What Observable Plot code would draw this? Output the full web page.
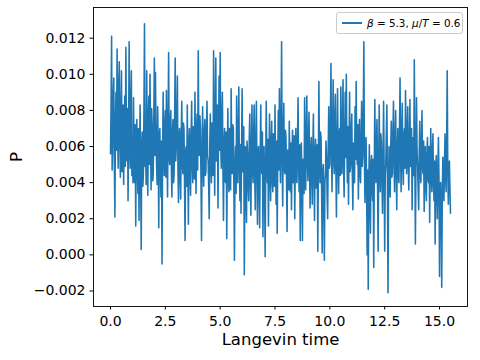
<!DOCTYPE html>
<html>
<head>
<meta charset="utf-8">
<script src="https://cdn.jsdelivr.net/npm/d3@7"></script>
<script src="https://cdn.jsdelivr.net/npm/@observablehq/plot@0.6"></script>
<style>
  html, body { margin: 0; padding: 0; background: white; }
  #chart { position: relative; width: 480px; height: 360px; }
  #legend {
    position: absolute; left: 336px; top: 12px; width: 127px; height: 22px;
    box-sizing: border-box; border: 1px solid #cccccc; border-radius: 3px;
    background: rgba(255,255,255,0.8); font-family: "DejaVu Sans"; font-size: 10.4px;
    display: flex; align-items: center; white-space: nowrap; color: black;
  }
  #legend .swatch { display: inline-block; width: 20px; height: 1.8px; background: #1f77b4; margin-left: 5px; margin-right: 5px; }
  #legend i { font-style: italic; }
</style>
</head>
<body>
<div id="chart"><div id="legend"></div></div>
<script>
// Langevin time grid step
const timeStep = 0.025;
// P (one value per time step)
const P = [
  0.0056, 0.0082, 0.0121, 0.0047, 0.0062, 0.0088, 0.0098, 0.0051, 0.0021, 0.0072,
  0.0090, 0.0058, 0.0114, 0.0070, 0.0048, 0.0093, 0.0107, 0.0062, 0.0043, 0.0079,
  0.0102, 0.0046, 0.0055, 0.0083, 0.0039, 0.0065, 0.0088, 0.0049, 0.0115, 0.0068,
  0.0052, 0.0081, 0.0030, 0.0066, 0.0118, 0.0060, 0.0048, 0.0085, 0.0102, 0.0044,
  0.0058, 0.0040, 0.0087, 0.0053, 0.0040, 0.0072, 0.0016, 0.0064, 0.0075, 0.0048,
  0.0034, 0.0070, 0.0019, 0.0058, 0.0083, 0.0045, 0.0003, 0.0061, 0.0068, 0.0038,
  0.0045, 0.0080, 0.0128, 0.0049, 0.0060, 0.0039, 0.0102, 0.0057, 0.0033, 0.0076,
  0.0088, 0.0050, 0.0100, 0.0067, 0.0036, 0.0081, 0.0072, 0.0041, 0.0045, 0.0077,
  0.0109, 0.0055, 0.0101, 0.0068, 0.0050, 0.0039, 0.0082, 0.0060, 0.0015, 0.0066,
  0.0070, 0.0047, 0.0032, 0.0063, -0.0005, 0.0055, 0.0090, 0.0060, 0.0044, 0.0071,
  0.0080, 0.0043, 0.0091, 0.0058, 0.0032, 0.0071, 0.0112, 0.0054, 0.0050, 0.0074,
  0.0080, 0.0046, 0.0032, 0.0069, 0.0075, 0.0040, 0.0045, 0.0078, 0.0109, 0.0052,
  0.0060, 0.0077, 0.0099, 0.0047, 0.0029, 0.0066, 0.0070, 0.0044, 0.0031, 0.0068,
  0.0085, 0.0050, 0.0045, 0.0073, 0.0070, 0.0039, 0.0008, 0.0057, 0.0060, 0.0038,
  0.0083, 0.0052, 0.0017, 0.0061, 0.0070, 0.0045, 0.0033, 0.0066, 0.0085, 0.0050,
  0.0040, 0.0071, 0.0062, 0.0042, 0.0090, 0.0056, 0.0034, 0.0069, 0.0078, 0.0047,
  0.0113, 0.0061, 0.0055, 0.0077, 0.0070, 0.0043, 0.0008, 0.0058, 0.0082, 0.0051,
  0.0038, 0.0068, 0.0075, 0.0044, 0.0046, 0.0072, 0.0085, 0.0055, 0.0052, 0.0039,
  0.0020, 0.0060, 0.0078, 0.0050, 0.0040, 0.0073, 0.0068, 0.0044, 0.0113, 0.0061,
  0.0033, 0.0075, 0.0109, 0.0052, 0.0060, 0.0083, 0.0026, 0.0064, 0.0099, 0.0058,
  0.0112, 0.0062, 0.0048, 0.0074, 0.0090, 0.0050, 0.0019, 0.0059, 0.0070, 0.0041,
  0.0040, 0.0068, 0.0009, 0.0052, 0.0081, 0.0047, 0.0035, 0.0070, 0.0065, 0.0036,
  0.0092, 0.0055, 0.0045, 0.0072, 0.0070, 0.0038, -0.0003, 0.0049, 0.0060, 0.0034,
  0.0088, 0.0052, 0.0040, 0.0067, 0.0093, 0.0048, 0.0030, 0.0061, 0.0023, 0.0057,
  0.0092, 0.0046, 0.0050, 0.0071, -0.0011, 0.0040, 0.0060, 0.0035, 0.0018, 0.0063,
  0.0055, 0.0038, 0.0030, 0.0064, 0.0078, 0.0041, 0.0022, 0.0059, 0.0083, 0.0047,
  0.0040, 0.0066, 0.0083, 0.0044, 0.0025, 0.0062, 0.0085, 0.0051, 0.0017, 0.0058,
  0.0060, 0.0036, 0.0015, 0.0055, 0.0083, 0.0049, 0.0045, 0.0068, 0.0010, 0.0052,
  0.0060, 0.0037, -0.0001, 0.0048, 0.0085, 0.0056, 0.0040, 0.0064, 0.0016, 0.0050,
  0.0078, 0.0045, 0.0030, 0.0062, 0.0074, 0.0041, 0.0035, 0.0067, 0.0060, 0.0038,
  0.0083, 0.0049, 0.0028, 0.0063, 0.0012, 0.0055, 0.0080, 0.0047, 0.0092, 0.0058,
  0.0040, 0.0071, 0.0118, 0.0056, 0.0027, 0.0064, 0.0084, 0.0048, 0.0045, 0.0069,
  0.0065, 0.0042, 0.0013, 0.0058, 0.0055, 0.0036, 0.0074, 0.0051, 0.0035, 0.0062,
  0.0025, 0.0057, 0.0069, 0.0040, 0.0045, 0.0066, 0.0020, 0.0052, 0.0070, 0.0043,
  0.0040, 0.0064, 0.0087, 0.0050, 0.0035, 0.0061, 0.0008, 0.0047, 0.0062, 0.0039,
  0.0008, 0.0053, 0.0050, 0.0034, 0.0087, 0.0058, 0.0036, 0.0065, 0.0088, 0.0052,
  0.0041, 0.0063, 0.0079, 0.0046, 0.0026, 0.0057, 0.0065, 0.0043, 0.0028, 0.0060,
  0.0078, 0.0047, 0.0019, 0.0055, 0.0064, 0.0037, 0.0040, 0.0061, 0.0002, 0.0049,
  0.0096, 0.0054, 0.0040, 0.0068, 0.0065, 0.0035, 0.0001, 0.0046, 0.0050, 0.0030,
  -0.0003, 0.0041, 0.0045, 0.0063, 0.0054, 0.0033, 0.0020, 0.0059, 0.0082, 0.0048,
  0.0050, 0.0072, 0.0106, 0.0057, 0.0035, 0.0068, 0.0097, 0.0053, 0.0045, 0.0076,
  0.0089, 0.0048, 0.0021, 0.0060, 0.0092, 0.0055, 0.0034, 0.0067, 0.0070, 0.0044,
  0.0093, 0.0056, 0.0045, 0.0074, 0.0097, 0.0050, 0.0032, 0.0063, 0.0090, 0.0054,
  0.0100, 0.0058, 0.0040, 0.0071, 0.0028, 0.0059, 0.0090, 0.0046, 0.0050, 0.0069,
  0.0078, 0.0044, 0.0025, 0.0062, 0.0060, 0.0040, 0.0082, 0.0053, 0.0096, 0.0057,
  0.0050, 0.0072, 0.0031, 0.0058, 0.0075, 0.0045, 0.0040, 0.0066, 0.0085, 0.0049,
  0.0055, 0.0077, 0.0118, 0.0054, 0.0029, 0.0060, 0.0065, 0.0038, 0.0000, 0.0047,
  -0.0019, 0.0040, 0.0061, 0.0033, 0.0012, 0.0050, 0.0055, 0.0036, 0.0030, 0.0053,
  -0.0007, 0.0045, 0.0086, 0.0052, 0.0040, 0.0063, 0.0075, 0.0039, 0.0002, 0.0048,
  0.0083, 0.0050, 0.0035, 0.0067, 0.0062, 0.0042, 0.0023, 0.0055, 0.0085, 0.0046,
  0.0002, 0.0044, 0.0050, 0.0068, 0.0083, 0.0041, -0.0021, 0.0037, 0.0060, 0.0045,
  0.0032, 0.0059, 0.0074, 0.0043, 0.0045, 0.0066, 0.0085, 0.0052, 0.0035, 0.0064,
  0.0080, 0.0047, 0.0025, 0.0058, 0.0070, 0.0044, 0.0040, 0.0069, 0.0098, 0.0056,
  0.0035, 0.0063, 0.0084, 0.0051, 0.0039, 0.0066, 0.0070, 0.0048, 0.0091, 0.0060,
  0.0045, 0.0068, 0.0082, 0.0050, 0.0036, 0.0061, 0.0086, 0.0049, 0.0055, 0.0070,
  0.0025, 0.0054, 0.0065, 0.0044, 0.0108, 0.0052, 0.0006, 0.0049, 0.0087, 0.0058,
  0.0050, 0.0036, 0.0025, 0.0057, 0.0074, 0.0045, 0.0040, 0.0062, 0.0080, 0.0048,
  0.0045, 0.0063, 0.0024, 0.0051, 0.0060, 0.0038, 0.0030, 0.0055, 0.0065, 0.0042,
  0.0040, 0.0060, 0.0018, 0.0047, 0.0070, 0.0044, 0.0035, 0.0058, 0.0067, 0.0039,
  0.0030, 0.0052, 0.0006, 0.0043, 0.0055, 0.0037, 0.0020, 0.0048, 0.0065, 0.0041,
  -0.0012, 0.0036, 0.0040, 0.0025, -0.0018, 0.0032, 0.0054, 0.0038, 0.0030, 0.0050,
  0.0067, 0.0044, 0.0035, 0.0061, 0.0102, 0.0049, 0.0028, 0.0045, 0.0052, 0.0036,
  0.0023
];
const xTicks = [0, 2.5, 5, 7.5, 10, 12.5, 15];
const yTicks = [-0.002, 0, 0.002, 0.004, 0.006, 0.008, 0.010, 0.012];
const xLabel = "Langevin time";
const yLabel = "P";
const beta = "5.3";
const muOverT = "0.6";

const time = P.map((_, i) => +(i * timeStep).toFixed(3));
const data = P.map((p, i) => ({t: time[i], p}));

const chart = Plot.plot({
  width: 480,
  height: 360,
  marginLeft: 93,
  marginRight: 13,
  marginTop: 7,
  marginBottom: 54,
  style: {fontFamily: "DejaVu Sans", fontSize: "14px", background: "white", color: "black"},
  x: {domain: [-0.775, 16.275]},
  y: {domain: [-0.00286, 0.0137]},
  marks: [
    Plot.lineY(data, {x: "t", y: "p", stroke: "#1f77b4", strokeWidth: 1.56}),
    Plot.frame({stroke: "black", strokeWidth: 0.9}),
    Plot.axisX({ticks: xTicks, tickFormat: d3.format(".1f"), tickSize: 3.5, tickPadding: 6, label: null, fontSize: 14}),
    Plot.axisY({ticks: yTicks, tickFormat: d3.format(".3f"), tickSize: 3.5, tickPadding: 4.5, label: null, fontSize: 14}),
    Plot.text([xLabel], {text: d => d, frameAnchor: "bottom", lineAnchor: "middle", textAnchor: "middle", dy: 33.7, fontSize: 16.5}),
    Plot.text([yLabel], {text: d => d, frameAnchor: "left", lineAnchor: "middle", textAnchor: "middle", dx: -77, rotate: -90, fontSize: 16.5})
  ]
});
const container = document.getElementById("chart");
container.insertBefore(chart, container.firstChild);

const legend = document.getElementById("legend");
legend.innerHTML = `<span class="swatch"></span><span><i>β</i> = ${beta}, <i>μ</i>/<i>T</i> = ${muOverT}</span>`;
</script>
</body>
</html>
